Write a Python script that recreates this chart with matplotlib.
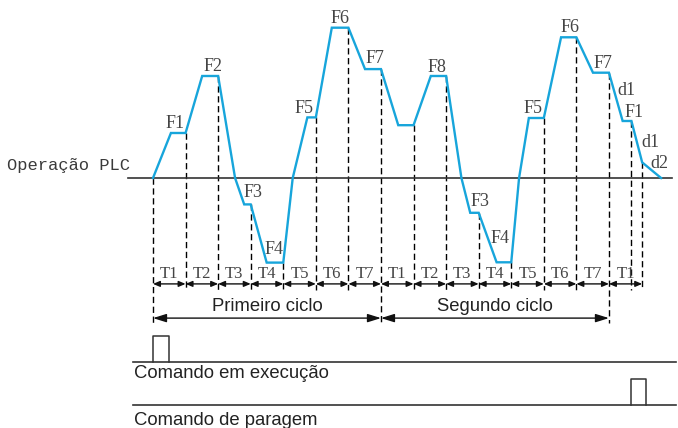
import numpy as np
import matplotlib.pyplot as plt

# curve vertices: time (in T units, one T = one interval) and frequency (Hz)
t_curve = [0.0, 0.55, 1.0, 1.51, 2.0, 2.52, 2.80, 3.0, 3.49, 4.0, 4.29, 4.74, 5.0,
           5.49, 6.0, 6.51, 7.0, 7.53, 8.0, 8.53, 9.0, 9.47, 9.74, 10.0, 10.55, 11.0,
           11.24, 11.54, 12.0, 12.53, 13.0, 13.51, 14.0, 14.42, 14.69, 15.02, 15.6]
f_curve = [0.0, 15.0, 15.0, 34.0, 34.0, 0.0, -8.8, -8.8, -28.2, -28.2, 0.0, 20.2, 20.2,
           50.1, 50.1, 36.3, 36.3, 17.6, 17.6, 34.0, 34.0, 0.0, -11.6, -11.6, -28.1, -28.1,
           0.0, 20.0, 20.0, 46.9, 46.9, 35.1, 35.1, 19.0, 19.0, 5.2, 0.0]

# interval boundaries
t_edges = [0, 1, 2, 3, 4, 5, 6, 7, 8, 9, 10, 11, 12, 13, 14, 14.69, 15.02]
cycle_edges = [0, 7, 14]
arrow_edges = [0, 1, 2, 3, 4, 5, 6, 7, 8, 9, 10, 11, 12, 13, 14, 15.02]
interval_names = ['T1', 'T2', 'T3', 'T4', 'T5', 'T6', 'T7',
                  'T1', 'T2', 'T3', 'T4', 'T5', 'T6', 'T7', 'T1']
cycle_names = ['Primeiro ciclo', 'Segundo ciclo']

# step labels and where they sit
step_names = ['F1', 'F2', 'F3', 'F4', 'F5', 'F6', 'F7', 'F8', 'F3', 'F4',
              'F5', 'F6', 'F7', 'd1', 'F1', 'd1', 'd2']
step_t = [0.68, 1.83, 3.07, 3.72, 4.64, 5.74, 6.82, 8.72, 10.04, 10.66,
          11.67, 12.80, 13.82, 14.55, 14.77, 15.26, 15.54]
step_f = [18.3, 37.3, -4.7, -23.7, 23.3, 53.3, 39.7, 36.7, -8.0, -20.0,
          23.0, 50.0, 38.3, 29.3, 21.7, 11.7, 4.7]

# command signals (pulse start/end in T units)
run_pulse = [0.01, 0.49]
stop_pulse = [14.68, 15.15]

blue = '#17a5db'
ink = '#2b2b2b'

plt.rcParams['lines.scale_dashes'] = False
fig = plt.figure(figsize=(6.78, 4.28), dpi=100)
ax = fig.add_axes([0, 0, 1, 1])
ax.set_xlim(-4.698, 16.12)
ax.set_ylim(-83.33, 59.33)
ax.axis('off')

# baseline + label
ax.plot([-0.77, 15.94], [0, 0], color='#333333', lw=1.2, zorder=2)
ax.text(-4.48, 4.0, 'Operação PLC', family='Liberation Mono', fontsize=12.3,
        color='#3a3a3a', va='center', ha='left')

# dashed guides from the curve down to the arrow rows
for t in t_edges:
    top = np.interp(t, t_curve, f_curve)
    bottom = -48.2 if t in cycle_edges else -37.3
    ax.plot([t, t], [top, bottom], color='black', lw=1.0,
            linestyle=(0, (4.5, 2.6)), zorder=1)

# frequency curve
ax.plot(t_curve, f_curve, color=blue, lw=1.7, solid_joinstyle='miter', zorder=3)

for name, t, f in zip(step_names, step_t, step_f):
    ax.text(t, f, name, family='Liberation Serif', fontsize=13, color='#444444',
            ha='center', va='center')

# interval arrows
for i, name in enumerate(interval_names):
    a, b = arrow_edges[i], arrow_edges[i + 1]
    ax.annotate('', xy=(b, -35.3), xytext=(a, -35.3),
                arrowprops=dict(arrowstyle='<|-|>,head_length=0.4,head_width=0.17',
                                color='#111111', lw=1.0, shrinkA=0, shrinkB=0))
    ax.text((a + b) / 2, -32.0, name, family='Liberation Serif', fontsize=12,
            color='#444444', ha='center', va='center')

# cycle arrows
for i, name in enumerate(cycle_names):
    a, b = cycle_edges[i], cycle_edges[i + 1]
    ax.annotate('', xy=(b, -46.7), xytext=(a, -46.7),
                arrowprops=dict(arrowstyle='<|-|>,head_length=0.8,head_width=0.25',
                                color='#111111', lw=1.0, shrinkA=0, shrinkB=0))
    ax.text((a + b) / 2, -42.7, name, family='Liberation Sans', fontsize=13.3,
            color='#222222', ha='center', va='center')

# command rows
ax.plot([-0.61, 16.06], [-61.2, -61.2], color='#333333', lw=1.2)
ax.plot([-0.61, 16.06], [-75.67, -75.67], color='#333333', lw=1.2)
ax.plot([run_pulse[0], run_pulse[0], run_pulse[1], run_pulse[1]],
        [-61.2, -52.67, -52.67, -61.2], color='#333333', lw=1.1)
ax.plot([stop_pulse[0], stop_pulse[0], stop_pulse[1], stop_pulse[1]],
        [-75.67, -67.0, -67.0, -75.67], color='#333333', lw=1.1)
ax.text(-0.58, -65.3, 'Comando em execução', family='Liberation Sans', fontsize=13.3,
        color='#222222', ha='left', va='center')
ax.text(-0.58, -80.67, 'Comando de paragem', family='Liberation Sans', fontsize=13.3,
        color='#222222', ha='left', va='center')

fig.savefig('out.png', dpi=100)
